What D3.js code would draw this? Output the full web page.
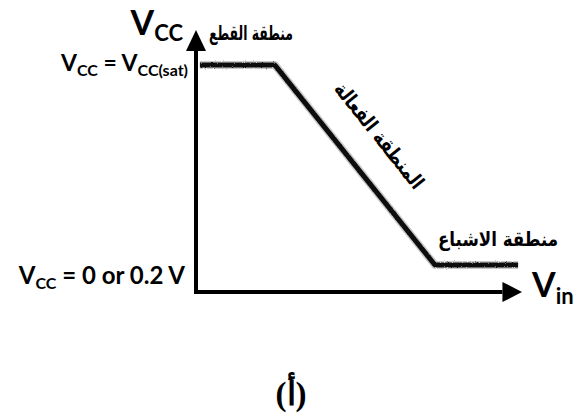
<!DOCTYPE html>
<html>
<head>
    <script src="https://cdn.jsdelivr.net/npm/d3@7"></script>
    <style>
        body {
            margin: 0;
            background-color: white;
        }

        .lat {
            font-family: Lato, "Open Sans", sans-serif;
            font-weight: bold;
            fill: black;
        }

        .ar {
            font-family: "DejaVu Sans", sans-serif;
            font-weight: bold;
            font-size: 20px;
            fill: black;
        }
    </style>
</head>
<body>
    <div id="chart"></div>
    <script>
        // transfer curve (normalised units)
        const vin = [0.012, 0.242, 0.733, 0.988]
        const vout = [0.866, 0.866, 0.103, 0.103]

        const regionLabels = ['منطقة القطع', 'المنطقة الفعالة', 'منطقة الاشباع']
        const caption = '(أ)'

        const w = 578
        const h = 417

        const x = d3.scaleLinear().domain([0, 1]).range([196, 522])
        const y = d3.scaleLinear().domain([0, 1]).range([292, 30])

        const svg = d3.select('#chart')
            .append('svg')
            .attr('width', w)
            .attr('height', h)

        const defs = svg.append('defs')
        const rough = defs.append('filter')
            .attr('id', 'rough')
            .attr('x', '-5%').attr('y', '-5%')
            .attr('width', '110%').attr('height', '110%')
        rough.append('feTurbulence')
            .attr('type', 'fractalNoise')
            .attr('baseFrequency', 0.9)
            .attr('numOctaves', 2)
            .attr('result', 'noise')
        rough.append('feDisplacementMap')
            .attr('in', 'SourceGraphic')
            .attr('in2', 'noise')
            .attr('scale', 2.5)

        // axes: plain lines with filled arrow heads
        const ax = svg.append('g')
        ax.append('line')
            .attr('x1', x(0)).attr('y1', y(0))
            .attr('x2', x(0)).attr('y2', y(0.92))
            .attr('stroke', 'black').attr('stroke-width', 4)
        ax.append('line')
            .attr('x1', x(0) - 2).attr('y1', y(0))
            .attr('x2', x(0.94)).attr('y2', y(0))
            .attr('stroke', 'black').attr('stroke-width', 4)
        ax.append('path')
            .attr('d', `M${x(0) - 10},${y(0.92)} L${x(0)},${y(1)} L${x(0) + 10},${y(0.92)} Z`)
            .attr('fill', 'black')
        ax.append('path')
            .attr('d', `M${x(0.94)},${y(0) - 10} L${x(1)},${y(0)} L${x(0.94)},${y(0) + 10} Z`)
            .attr('fill', 'black')

        // curve
        const pts = vin.map((v, i) => [v, vout[i]])
        const line = d3.line().x(d => x(d[0])).y(d => y(d[1]))
        svg.append('path')
            .datum(pts)
            .attr('d', line)
            .attr('fill', 'none')
            .attr('stroke', '#888')
            .attr('stroke-width', 8)
            .attr('stroke-linejoin', 'round')
            .attr('opacity', 0.45)
            .attr('filter', 'url(#rough)')
        svg.append('path')
            .datum(pts)
            .attr('d', line)
            .attr('fill', 'none')
            .attr('stroke', '#111')
            .attr('stroke-width', 5)
            .attr('stroke-linejoin', 'round')
            .attr('filter', 'url(#rough)')

        // axis titles
        const yt = svg.append('text').attr('class', 'lat')
            .attr('x', 183).attr('y', 35).attr('text-anchor', 'end')
        yt.append('tspan').attr('font-size', 34).text('V')
        yt.append('tspan').attr('font-size', 22).attr('dy', 6).text('CC')

        const xt = svg.append('text').attr('class', 'lat')
            .attr('x', 532).attr('y', 297)
        xt.append('tspan').attr('font-size', 34).text('V')
        xt.append('tspan').attr('font-size', 22).attr('dy', 7).text('in')

        // level labels
        const hiLabel = svg.append('text').attr('class', 'lat')
            .attr('x', 188).attr('y', 71).attr('text-anchor', 'end').attr('font-size', 23)
        hiLabel.append('tspan').text('V')
        hiLabel.append('tspan').attr('font-size', 16).attr('dy', 5).text('CC')
        hiLabel.append('tspan').attr('dy', -5).text(' = V')
        hiLabel.append('tspan').attr('font-size', 16).attr('dy', 5).text('CC(sat)')

        const loLabel = svg.append('text').attr('class', 'lat')
            .attr('x', 185).attr('y', 284).attr('text-anchor', 'end').attr('font-size', 24)
        loLabel.append('tspan').text('V')
        loLabel.append('tspan').attr('font-size', 16).attr('dy', 5).text('CC')
        loLabel.append('tspan').attr('dy', -5).text(' = 0 or 0.2 V')

        // region labels
        svg.append('text').attr('class', 'ar')
            .attr('x', 251).attr('y', 40).attr('text-anchor', 'middle')
            .attr('textLength', 84).attr('lengthAdjust', 'spacingAndGlyphs')
            .text(regionLabels[0])

        const ang = Math.atan2(y(vout[2]) - y(vout[1]), x(vin[2]) - x(vin[1])) * 180 / Math.PI
        svg.append('text').attr('class', 'ar')
            .attr('text-anchor', 'middle')
            .attr('textLength', 130).attr('lengthAdjust', 'spacingAndGlyphs')
            .attr('transform', `translate(374,140) rotate(${ang})`)
            .text(regionLabels[1])

        svg.append('text').attr('class', 'ar')
            .attr('x', 498).attr('y', 246).attr('text-anchor', 'middle')
            .attr('font-size', 18)
            .attr('textLength', 120).attr('lengthAdjust', 'spacingAndGlyphs')
            .text(regionLabels[2])

        svg.append('text')
            .attr('x', 291).attr('y', 405).attr('text-anchor', 'middle')
            .attr('font-family', '"Liberation Serif", "DejaVu Serif", serif')
            .attr('font-weight', 'bold').attr('font-size', 33)
            .text(caption)
    </script>
</body>
</html>
